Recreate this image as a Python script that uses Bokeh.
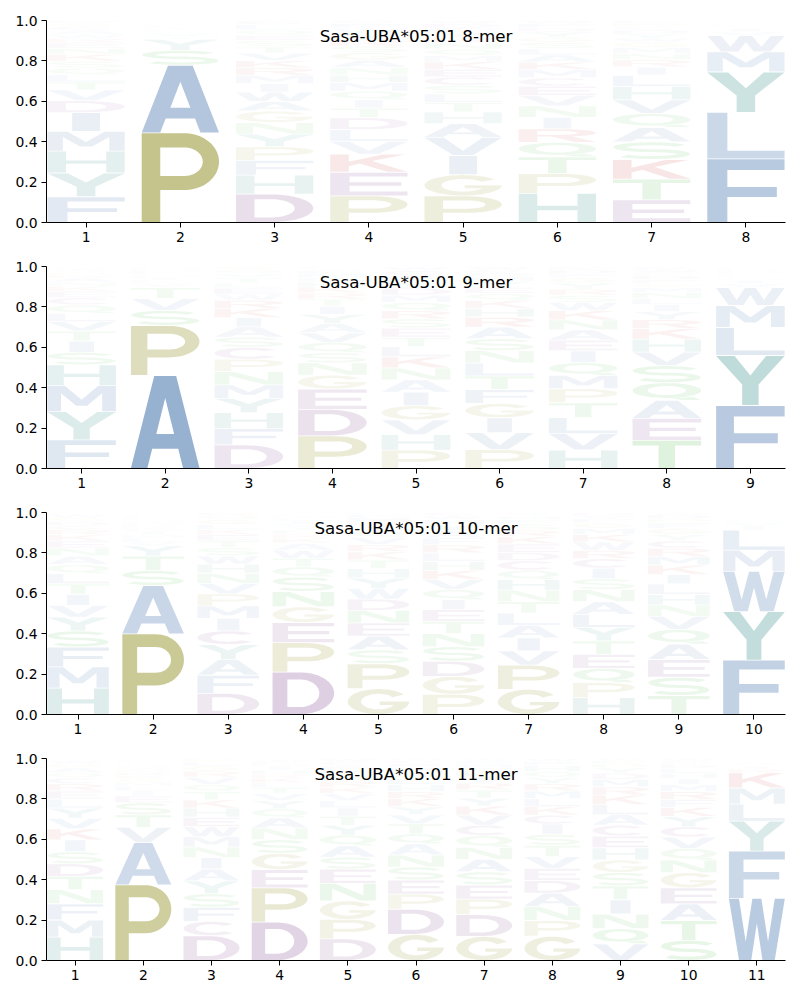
import numpy as np
from bokeh.plotting import figure
from bokeh.models import Range1d, FixedTicker, PrintfTickFormatter, Label, ColumnDataSource
from bokeh.layouts import column
from bokeh.embed import file_html
from bokeh.resources import INLINE

# ---------------- data ----------------
titles = ["Sasa-UBA*05:01 8-mer", "Sasa-UBA*05:01 9-mer",
          "Sasa-UBA*05:01 10-mer", "Sasa-UBA*05:01 11-mer"]
y_ticks = [0.0, 0.2, 0.4, 0.6, 0.8, 1.0]

freq_8mer = [
    dict(F=.13, Y=.12, H=.11, M=.10, I=.095, D=.06, V=.055, T=.04, L=.035, Q=.035, S=.035, K=.035, N=.03, E=.03, R=.02, W=.02, A=.02, C=.02, G=.015, P=.015),
    dict(P=.445, A=.335, S=.075, Y=.055, T=.015, V=.015, G=.01, L=.008, I=.006, M=.006, C=.005, K=.005, R=.004, E=.004, D=.004, N=.003, Q=.002, H=.002, F=.002, W=.002),
    dict(D=.135, H=.09, F=.07, P=.065, Y=.06, N=.055, G=.055, A=.045, W=.045, I=.04, M=.04, R=.035, K=.035, V=.035, T=.03, S=.03, E=.025, Q=.025, L=.025, C=.02),
    dict(P=.125, E=.11, K=.085, V=.06, L=.055, D=.055, T=.045, I=.04, Q=.04, M=.04, H=.035, N=.035, A=.035, G=.035, S=.03, R=.03, Y=.03, W=.025, F=.02, C=.015),
    dict(P=.125, G=.1, I=.09, V=.085, A=.065, H=.055, T=.045, L=.04, S=.04, C=.04, E=.035, K=.035, M=.03, Q=.03, N=.03, R=.025, Y=.025, F=.02, D=.02, W=.015),
    dict(H=.14, P=.095, T=.08, Q=.07, R=.065, I=.055, N=.055, V=.05, E=.045, C=.04, M=.04, K=.035, A=.035, L=.03, S=.03, G=.025, Y=.025, D=.02, F=.02, W=.015),
    dict(E=.11, T=.1, K=.095, S=.085, A=.07, Q=.068, V=.066, H=.064, L=.055, I=.04, R=.035, N=.03, M=.03, G=.025, W=.02, Y=.02, D=.02, C=.015, P=.015, F=.015),
    dict(F=.315, L=.23, Y=.2, M=.1, W=.08, V=.02, I=.015, H=.01, C=.008, A=.002, D=.002, E=.002, G=.002, K=.002, N=.002, P=.002, Q=.002, R=.002, S=.002, T=.002),
]

freq_9mer = [
    dict(F=.138, Y=.135, M=.125, H=.1, S=.06, I=.055, T=.048, V=.045, L=.04, Q=.04, C=.035, E=.03, K=.025, N=.02, A=.02, R=.015, D=.01, G=.01, W=.01, P=.01),
    dict(A=.465, P=.25, S=.075, V=.06, T=.055, Y=.015, G=.012, L=.01, I=.01, K=.008, M=.005, C=.005, E=.005, D=.005, R=.005, N=.005, Q=.005, H=.005, F=.005, W=.005),
    dict(D=.115, F=.08, H=.078, Y=.07, M=.066, N=.065, P=.06, C=.058, S=.05, A=.05, I=.045, K=.045, R=.04, W=.03, E=.03, L=.025, T=.025, V=.02, Q=.02, G=.015),
    dict(P=.16, D=.13, E=.1, G=.068, N=.06, S=.05, Q=.05, V=.048, A=.045, Y=.045, I=.04, T=.035, R=.03, K=.03, H=.025, L=.02, M=.02, F=.015, W=.01, C=.01),
    dict(P=.09, H=.075, V=.072, G=.07, I=.065, A=.06, N=.058, K=.055, L=.05, T=.045, E=.045, S=.045, R=.04, Q=.04, M=.035, D=.035, Y=.03, F=.03, C=.025, W=.02),
    dict(P=.095, V=.085, I=.075, G=.072, F=.07, T=.068, L=.065, N=.062, S=.06, A=.058, R=.05, H=.045, K=.04, Q=.035, E=.03, Y=.03, M=.025, D=.02, C=.015, W=.015),
    dict(H=.09, V=.08, L=.078, T=.072, P=.068, M=.065, Q=.062, I=.058, E=.052, A=.05, N=.048, K=.045, W=.04, S=.035, R=.03, Y=.03, G=.025, F=.02, D=.02, C=.015),
    dict(T=.14, E=.11, A=.09, Q=.088, S=.085, V=.068, H=.065, K=.052, R=.045, Y=.04, I=.035, L=.03, N=.03, M=.025, G=.02, F=.02, D=.02, P=.015, W=.015, C=.015),
    dict(F=.315, Y=.25, L=.14, M=.11, W=.09, V=.02, I=.015, H=.01, A=.005, C=.005, D=.005, E=.005, G=.005, K=.005, N=.005, P=.005, Q=.005, R=.005, S=.005, T=.005),
]

freq_10mer = [
    dict(H=.13, M=.105, F=.098, S=.08, Y=.068, V=.058, I=.055, T=.052, L=.05, Q=.045, A=.042, N=.04, E=.035, K=.03, R=.025, C=.02, D=.02, G=.02, W=.015, P=.01),
    dict(P=.4, A=.24, S=.075, T=.072, Y=.05, V=.02, L=.02, M=.015, I=.015, G=.012, K=.012, R=.01, E=.01, N=.01, Q=.01, F=.008, H=.008, D=.006, C=.005, W=.005),
    dict(D=.105, F=.09, A=.078, Y=.075, C=.068, I=.062, M=.062, P=.06, V=.052, N=.05, H=.045, W=.042, S=.04, T=.035, E=.03, K=.025, L=.025, G=.025, Q=.02, R=.015),
    dict(D=.21, P=.145, E=.1, G=.078, N=.075, S=.072, Q=.05, T=.042, W=.04, A=.035, K=.025, R=.02, H=.02, Y=.015, V=.015, I=.015, L=.012, M=.01, F=.01, C=.01),
    dict(G=.125, P=.12, S=.068, A=.066, E=.065, N=.06, D=.055, W=.052, Y=.05, H=.045, T=.042, K=.04, R=.035, V=.035, Q=.03, I=.025, L=.02, M=.02, F=.015, C=.01),
    dict(P=.1, G=.088, D=.075, S=.072, N=.065, T=.06, E=.058, I=.05, Q=.05, V=.048, K=.046, H=.044, L=.042, R=.04, F=.035, A=.035, Y=.03, M=.025, W=.02, C=.015),
    dict(G=.12, P=.115, V=.068, I=.062, A=.06, L=.058, T=.055, N=.055, H=.05, Q=.045, C=.045, D=.04, E=.04, K=.035, R=.03, S=.03, F=.02, M=.015, Y=.01, W=.01),
    dict(H=.08, P=.072, Q=.068, E=.066, T=.065, Y=.064, L=.062, A=.06, N=.058, S=.052, I=.05, C=.045, R=.04, W=.04, K=.035, M=.03, G=.025, F=.02, V=.015, D=.015),
    dict(T=.09, S=.088, E=.085, A=.074, Q=.07, V=.062, N=.055, H=.05, L=.05, I=.045, K=.045, M=.042, R=.04, C=.035, Y=.03, G=.03, F=.025, P=.02, D=.02, W=.01),
    dict(F=.27, Y=.24, W=.2, M=.105, L=.1, I=.02, V=.015, H=.01, C=.008, A=.004, D=.003, E=.003, G=.003, K=.003, N=.003, P=.003, Q=.003, R=.003, S=.003, T=.003),
]

freq_11mer = [
    dict(H=.115, M=.085, F=.08, N=.07, T=.065, D=.062, S=.06, I=.058, K=.055, V=.052, Y=.05, L=.045, E=.04, R=.035, C=.03, Q=.025, A=.025, G=.02, W=.015, P=.01),
    dict(P=.375, A=.21, V=.075, T=.062, S=.06, E=.035, I=.025, L=.022, M=.02, G=.018, K=.015, R=.015, N=.012, Q=.012, D=.01, H=.01, Y=.008, F=.008, C=.005, W=.005),
    dict(D=.12, C=.07, F=.068, S=.066, Y=.062, A=.058, I=.055, N=.052, M=.05, W=.048, E=.046, H=.044, K=.04, T=.04, Q=.035, V=.035, R=.03, G=.025, L=.02, P=.016),
    dict(D=.19, P=.17, E=.09, G=.08, S=.068, N=.058, A=.05, Q=.045, Y=.04, V=.035, T=.03, L=.025, K=.022, R=.02, H=.02, I=.018, M=.012, F=.01, W=.01, C=.007),
    dict(D=.105, P=.095, G=.09, N=.085, E=.07, S=.058, A=.055, Q=.052, Y=.048, T=.045, I=.04, L=.035, V=.035, K=.03, R=.03, H=.03, M=.025, F=.02, C=.02, W=.015),
    dict(G=.13, D=.125, P=.075, E=.07, S=.065, N=.06, A=.055, Q=.05, T=.05, V=.045, Y=.04, K=.04, R=.035, H=.035, L=.03, I=.03, M=.025, F=.02, C=.015, W=.01),
    dict(G=.12, D=.108, P=.078, E=.07, S=.066, A=.062, N=.06, Q=.058, C=.052, V=.05, K=.045, Y=.04, T=.04, R=.035, I=.03, H=.025, L=.02, M=.02, F=.015, W=.012),
    dict(G=.12, P=.078, N=.07, A=.066, D=.062, E=.06, V=.058, T=.056, S=.055, I=.05, C=.045, K=.042, L=.04, M=.038, R=.035, Y=.03, Q=.03, H=.03, F=.02, W=.015),
    dict(V=.08, Q=.072, N=.07, I=.068, T=.066, S=.064, G=.06, H=.058, E=.056, C=.052, A=.05, L=.048, K=.045, R=.04, M=.035, D=.03, Y=.025, P=.02, F=.015, W=.01),
    dict(S=.1, T=.098, A=.082, E=.08, G=.075, N=.062, Q=.058, V=.056, C=.052, Y=.05, K=.045, F=.04, R=.038, M=.035, I=.03, H=.025, L=.025, D=.02, P=.015, W=.014),
    dict(W=.31, F=.235, Y=.15, L=.085, M=.08, K=.075, R=.02, I=.012, H=.01, V=.01, A=.002, C=.002, D=.002, E=.002, G=.002, N=.002, P=.002, Q=.002, S=.002, T=.002),
]

panels_data = [freq_8mer, freq_9mer, freq_10mer, freq_11mer]

# ---------------- colours ----------------
BLUE, OLIVE, TEAL, PURPLE, RED, GREEN = "#4a77ae", "#95952f", "#348e88", "#804a8f", "#c83232", "#42b542"
COLORS = dict(A=BLUE, F=BLUE, I=BLUE, L=BLUE, M=BLUE, V=BLUE, W=BLUE,
              G=OLIVE, P=OLIVE, H=TEAL, Y=TEAL, D=PURPLE, E=PURPLE, C=PURPLE,
              K=RED, R=RED, N=GREEN, Q=GREEN, S=GREEN, T=GREEN)


# ---------------- letter shapes (unit box) ----------------
def arc(cx, cy, rx, ry, a0, a1, n=48):
    t = np.radians(np.linspace(a0, a1, n))
    return list(cx + rx * np.cos(t)), list(cy + ry * np.sin(t))


def pts(*p):
    return [q[0] for q in p], [q[1] for q in p]


def join(*parts):
    xs, ys = [], []
    for px, py in parts:
        xs += list(px)
        ys += list(py)
    return xs, ys


def stroke(px, py, w):
    px, py = np.array(px), np.array(py)
    dx, dy = np.gradient(px), np.gradient(py)
    L = np.hypot(dx, dy)
    nx, ny = -dy / L, dx / L
    lx, ly = px + nx * w / 2, py + ny * w / 2
    rx, ry = px - nx * w / 2, py - ny * w / 2
    return list(lx) + list(rx[::-1]), list(ly) + list(ry[::-1])


def build_shapes():
    S = {}
    S["A"] = [[pts((0, 0), (.34, 1), (.66, 1), (1, 0), (.76, 0), (.69, .21), (.31, .21), (.24, 0)),
               pts((.37, .37), (.63, .37), (.5, .76))]]
    S["C"] = [[join(arc(.5, .5, .5, .5, 40, 320), arc(.5, .5, .28, .31, 320, 40))]]
    S["D"] = [[join(pts((0, 0)), arc(.45, .5, .55, .5, -90, 90), pts((0, 1))),
               join(pts((.24, .17)), arc(.45, .5, .31, .33, -90, 90), pts((.24, .83)))]]
    S["E"] = [[pts((0, 0), (1, 0), (1, .17), (.25, .17), (.25, .42), (.92, .42), (.92, .58),
                   (.25, .58), (.25, .83), (1, .83), (1, 1), (0, 1))]]
    S["F"] = [[pts((0, 0), (.26, 0), (.26, .4), (.9, .4), (.9, .56), (.26, .56), (.26, .83),
                   (1, .83), (1, 1), (0, 1))]]
    a = float(np.degrees(np.arcsin(-.14 / .31)))
    S["G"] = [[join(arc(.5, .5, .5, .5, 35, 360), pts((.52, .5), (.52, .36)),
                    arc(.5, .5, .28, .31, 360 + a, 35))]]
    S["H"] = [[pts((0, 0), (.24, 0), (.24, .42), (.76, .42), (.76, 0), (1, 0), (1, 1), (.76, 1),
                   (.76, .58), (.24, .58), (.24, 1), (0, 1))]]
    S["I"] = [[pts((.32, 0), (.68, 0), (.68, 1), (.32, 1))]]
    S["K"] = [[pts((0, 0), (.24, 0), (.24, .33), (.38, .48), (.74, 0), (1, 0), (.54, .62),
                   (.97, 1), (.68, 1), (.24, .58), (.24, 1), (0, 1))]]
    S["L"] = [[pts((0, 0), (1, 0), (1, .17), (.26, .17), (.26, 1), (0, 1))]]
    S["M"] = [[pts((0, 0), (.2, 0), (.2, .72), (.42, .22), (.58, .22), (.8, .72), (.8, 0), (1, 0),
                   (1, 1), (.74, 1), (.5, .46), (.26, 1), (0, 1))]]
    S["N"] = [[pts((0, 0), (.22, 0), (.22, .7), (.72, 0), (1, 0), (1, 1), (.78, 1), (.78, .3),
                   (.28, 1), (0, 1))]]
    S["P"] = [[join(pts((0, 0), (.24, 0), (.24, .36)), arc(.55, .68, .45, .32, -90, 90), pts((0, 1))),
               join(pts((.24, .52)), arc(.55, .68, .24, .16, -90, 90), pts((.24, .84)))]]
    S["Q"] = [[arc(.5, .56, .5, .44, 0, 360), arc(.5, .56, .28, .27, 0, 360)],
              [pts((.58, .1), (.72, 0), (1, 0), (.88, .18))]]
    S["R"] = [[join(pts((0, 0), (.24, 0), (.24, .42), (.42, .42), (.72, 0), (1, 0), (.68, .45)),
                    arc(.55, .71, .45, .29, -63, 90), pts((0, 1))),
               join(pts((.24, .56)), arc(.52, .71, .24, .15, -90, 90), pts((.24, .86)))]]
    ux, uy = arc(.5, .71, .41, .205, 25, 270, 60)
    lx, ly = arc(.5, .3, .41, .205, 90, -150, 60)
    S["S"] = [[stroke(ux + lx[1:], uy + ly[1:], .17)]]
    S["T"] = [[pts((0, .83), (0, 1), (1, 1), (1, .83), (.62, .83), (.62, 0), (.38, 0), (.38, .83))]]
    S["V"] = [[pts((0, 1), (.25, 1), (.5, .25), (.75, 1), (1, 1), (.63, 0), (.37, 0))]]
    S["W"] = [[pts((0, 1), (.18, 1), (.3, .3), (.42, 1), (.58, 1), (.7, .3), (.82, 1), (1, 1),
                   (.82, 0), (.6, 0), (.5, .6), (.4, 0), (.18, 0))]]
    S["Y"] = [[pts((0, 1), (.27, 1), (.5, .6), (.73, 1), (1, 1), (.62, .42), (.62, 0), (.38, 0),
                   (.38, .42))]]
    return S


SHAPES = build_shapes()
HW = 0.41  # half width of a letter column


def logo_source(freqs):
    xs_all, ys_all, cols, alphas = [], [], [], []
    for i, fd in enumerate(freqs, start=1):
        tot = sum(fd.values())
        b = 0.0
        for letter, v in sorted(fd.items(), key=lambda kv: -kv[1]):
            h = v / tot
            pad = min(0.002, h * 0.1)
            mx, my = [], []
            for poly in SHAPES[letter]:
                px, py = [], []
                for rx, ry in poly:
                    px.append([i - HW + 2 * HW * x for x in rx])
                    py.append([b + pad + (h - 2 * pad) * y for y in ry])
                mx.append(px)
                my.append(py)
            xs_all.append(mx)
            ys_all.append(my)
            cols.append(COLORS[letter])
            alphas.append(min(1.0, 1.25 * h))
            b += h
    return ColumnDataSource(dict(xs=xs_all, ys=ys_all, color=cols, alpha=alphas))


def make_panel(freqs, title):
    n = len(freqs)
    p = figure(frame_width=739, frame_height=202,
               x_range=Range1d(0.58, n + 0.42), y_range=Range1d(0, 1),
               output_backend="svg", toolbar_location=None,
               min_border_left=46, min_border_right=15, min_border_top=20, min_border_bottom=24)
    p.outline_line_color = None
    p.xgrid.visible = False
    p.ygrid.visible = False
    p.background_fill_color = "white"
    p.border_fill_color = "white"
    src = logo_source(freqs)
    p.multi_polygons(xs="xs", ys="ys", fill_color="color", fill_alpha="alpha",
                     line_color=None, source=src)
    p.xaxis.ticker = FixedTicker(ticks=list(range(1, n + 1)))
    p.yaxis.ticker = FixedTicker(ticks=y_ticks)
    p.yaxis.formatter = PrintfTickFormatter(format="%.1f")
    for ax in (p.xaxis[0], p.yaxis[0]):
        ax.major_tick_out = 5
        ax.major_tick_in = 0
        ax.minor_tick_out = 0
        ax.minor_tick_in = 0
        ax.axis_line_color = "black"
        ax.axis_line_width = 1
        ax.major_tick_line_color = "black"
        ax.major_label_text_font = "DejaVu Sans"
        ax.major_label_text_font_size = "13.9px"
        ax.major_label_text_color = "black"
        ax.major_label_standoff = 4
    p.add_layout(Label(x=(n + 1) / 2, y=0.921, text=title, text_align="center",
                       text_baseline="middle", text_font="DejaVu Sans",
                       text_font_size="16.7px", text_color="black"))
    return p


figs = [make_panel(f, t) for f, t in zip(panels_data, titles)]
layout = column(*figs, spacing=0)
open("out.html", "w").write(file_html(layout, INLINE))
